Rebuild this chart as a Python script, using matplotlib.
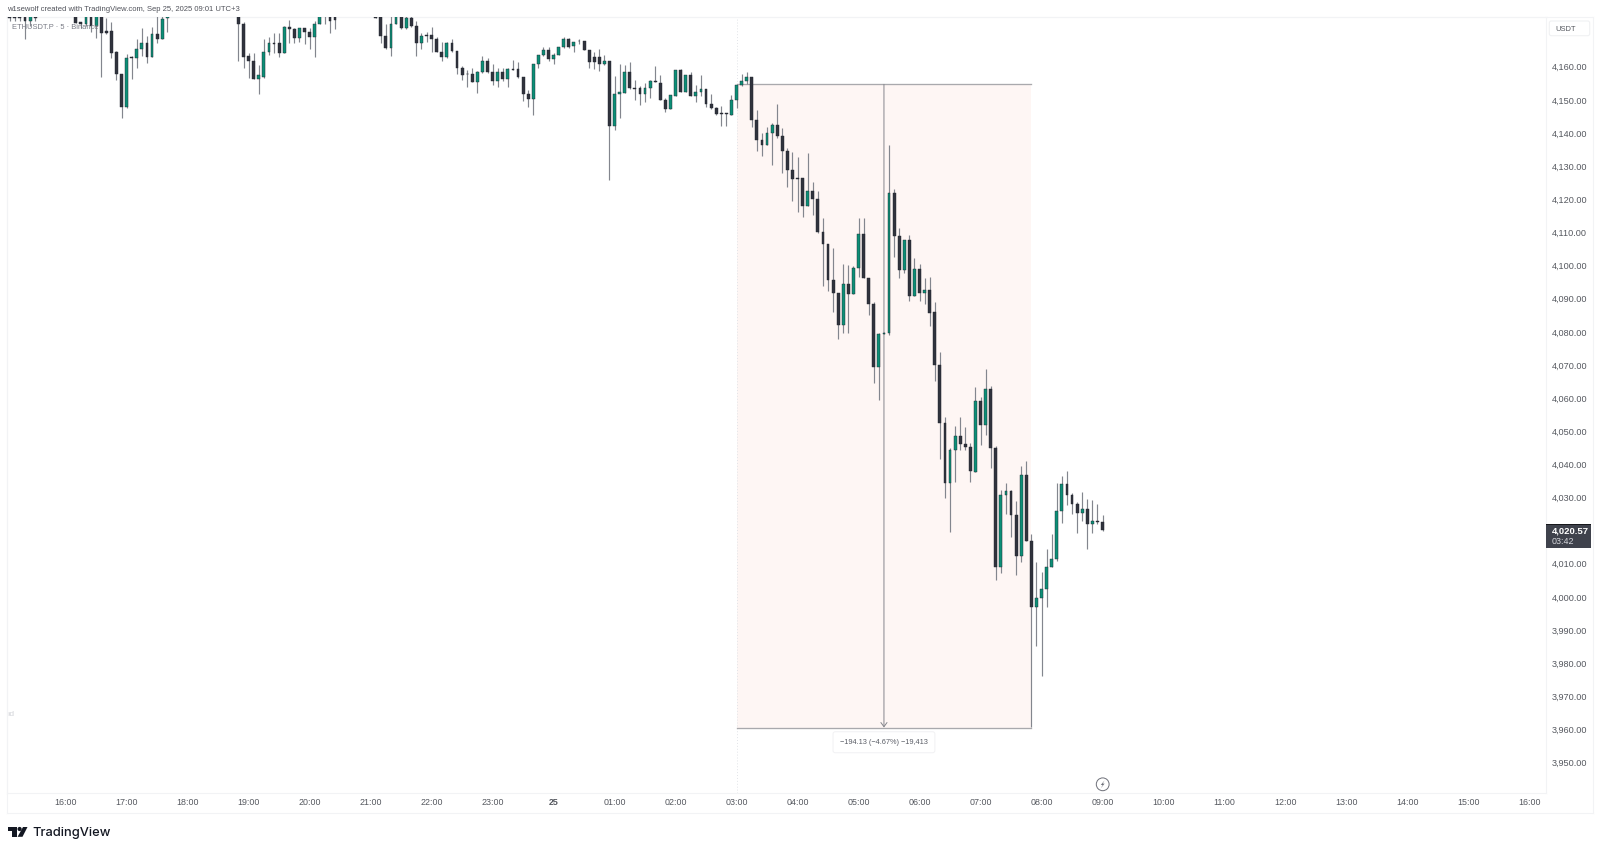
import numpy as np
import matplotlib
matplotlib.use("Agg")
import matplotlib.pyplot as plt
from matplotlib.patches import FancyBboxPatch, Rectangle, Polygon, Circle

plt.rcParams['font.family'] = ['Liberation Sans', 'DejaVu Sans']

nan = np.nan
FIRST_BAR = -11   # bars are 5 minutes, bar 0 = 16:00 Sep 24

opens = [4176,4176,4176,4176,4174.0,4176] + [nan]*7 + [
 4176,4173.7,4173.2,4176,4172.5,4176,4171.1,4171.1,4164.7,4158.1,4148.1,4163.3,4163.1,4165.8,4167.5,4163.4,4170.3,4168.7,4174.9] + [nan]*13 + [
 4176,4173.2,4163.5,4162.1,4156.6,4157.3,4164.8,4167.6,4167.5,4164.6,4172.2,4171.6,4169.0,4171.9,4170.7,4169.4,4173.2,4176.5,4176,4176] + [nan]*7 + [
 4176,4176,4169.6,4166.1,4173.2,4176,4172.0,4174.9,4172.7,4167.4,
 4169.9,4169.8,4168.8,4164.8,4163.3,4167.4,4165.1,4160.0,4158.2,4158.2,
 4155.8,4158.6,4161.9,4158.7,4156.0,4158.6,4156.6,4159.6,4159.6,4157.3,
 4152.1,4150.5,4161.0,4163.9,4165.4,4162.8,4164.0,4166.2,4168.8,4166.5,
 4168.2,4168.2,4165.5,4163.2,4163.2,4161.1,4161.9,4142.5,4152.1,4152.5,
 4158.7,4153.9,4153.9,4152.0,4154.0,4156.0,4155.5,4150.4,4147.6,4151.6,
 4159.4,4152.6,4157.8,4151.6,4152.8,4153.6,4149.0,4148.0,4146.3,4146.3,
 4145.9,4150.2,4154.8,4156.0,4157.3,4144.2,4138.2,4136.7,4140.2,4142.7,
 4139.4,4135.0,4129.0,4126.6,4126.6,4118.4,4122.7,4120.3,4110.3,4106.8,
 4096.0,4092.1,4082.3,4094.8,4091.6,4099.5,4109.8,4096.5,4088.7,4069.6,
 4079.6,4079.9,4122.3,4109.2,4099.0,4108.0,4091.2,4099.3,4092.1,4093.0,
 4086.4,4070.4,4052.9,4034.8,4044.5,4048.9,4046.3,4045.5,4038.1,4059.4,
 4052.3,4063.0,4045.3,4009.2,4031.0,4032.2,4025.1,4012.5,4037.0,4017.3,
 3997.4,4000.0,4002.6,4009.4,4011.7,4026.2,4034.3,4031.0,4028.4,4025.5,
 4026.7,4022.4,4023.1,4022.8]

highs = [4180,4180,4180,4180,4180,4180] + [nan]*7 + [
 4180,4173.9,4180,4180,4180,4180,4175.0,4173.8,4165.1,4158.1,4164.2,4163.6,4168.6,4171.9,4169.6,4172.3,4180,4180,4180] + [nan]*13 + [
 4180,4173.8,4164.4,4164.6,4160.9,4168.8,4169.2,4170.6,4170.6,4172.5,4174.3,4171.9,4171.9,4171.9,4171.9,4174.0,4180,4180,4180,4180] + [nan]*7 + [
 4180,4180,4173.2,4180,4180,4180,4180,4180,4174.0,4170.4,
 4170.7,4172.3,4169.2,4167.9,4167.9,4168.6,4165.1,4160.4,4159.4,4159.9,
 4158.9,4163.6,4162.9,4161.1,4159.9,4159.9,4159.9,4162.4,4161.6,4157.3,
 4153.3,4161.2,4163.9,4166.2,4166.4,4164.4,4166.3,4169.2,4169.0,4167.9,
 4168.6,4168.2,4165.5,4164.9,4165.6,4163.9,4161.9,4157.6,4161.2,4160.9,
 4161.7,4156.2,4154.5,4155.3,4156.4,4160.6,4157.9,4150.8,4151.8,4159.3,
 4159.7,4157.9,4158.6,4154.8,4157.9,4153.6,4152.0,4148.3,4148.5,4146.5,
 4151.8,4154.8,4158.2,4158.6,4157.3,4147.3,4140.2,4142.2,4143.2,4149.1,
 4141.7,4135.7,4134.7,4133.0,4126.6,4134.2,4125.6,4122.9,4114.6,4106.8,
 4105.5,4092.1,4100.8,4100.5,4100.2,4114.8,4114.8,4096.5,4089.4,4079.9,
 4080.2,4136.7,4123.3,4111.5,4108.0,4109.4,4102.5,4100.7,4096.5,4096.8,
 4089.4,4074.3,4054.7,4045.2,4051.9,4054.5,4051.7,4046.9,4063.8,4060.5,
 4069.1,4064.0,4045.7,4032.6,4034.8,4032.6,4029.1,4039.8,4041.3,4019.2,
 4010.9,4007.9,4014.7,4019.3,4034.6,4036.8,4038.4,4031.8,4028.8,4032.0,
 4029.8,4029.6,4028.3,4025.0]

lows = [4174.0,4174.0,4174.0,4168.6,4172.5,4174.0] + [nan]*7 + [
 4173.4,4171.9,4172.5,4170.9,4168.9,4157.2,4170.2,4163.1,4156.2,4144.9,4147.8,4156.6,4159.9,4163.6,4161.4,4163.4,4167.4,4168.6,4170.7] + [nan]*13 + [
 4161.9,4159.9,4156.9,4156.6,4152.1,4156.9,4163.8,4164.4,4163.2,4164.4,4167.4,4167.6,4167.9,4167.2,4165.6,4163.4,4173.2,4173.3,4170.6,4171.8] + [nan]*7 + [
 4175.0,4167.6,4165.8,4163.6,4173.2,4171.8,4171.8,4172.3,4163.6,4165.8,
 4167.9,4164.9,4164.8,4162.2,4162.9,4164.8,4158.2,4156.2,4154.1,4155.8,
 4152.5,4158.4,4158.4,4154.8,4154.1,4155.9,4154.1,4159.4,4156.9,4150.0,
 4148.1,4145.7,4159.8,4163.6,4161.9,4161.0,4163.9,4166.1,4166.1,4164.9,
 4167.2,4165.4,4159.8,4159.6,4158.9,4160.9,4126.0,4141.3,4144.7,4152.5,
 4153.6,4150.3,4148.7,4149.8,4150.8,4155.6,4150.3,4146.8,4147.5,4151.5,
 4152.7,4152.6,4151.5,4149.7,4151.5,4148.3,4147.5,4145.8,4142.3,4142.5,
 4145.8,4147.8,4154.5,4155.0,4142.1,4135.0,4133.4,4136.7,4130.7,4138.7,
 4128.1,4123.9,4119.9,4116.6,4114.9,4118.4,4115.6,4110.2,4094.1,4092.7,
 4086.4,4078.0,4080.1,4079.9,4091.6,4097.0,4096.5,4085.4,4065.0,4059.7,
 4079.5,4079.4,4102.8,4096.7,4098.2,4089.7,4091.1,4089.7,4088.7,4082.1,
 4065.5,4041.8,4030.1,4019.8,4035.1,4044.7,4044.7,4035.0,4038.1,4046.2,
 4049.3,4039.1,4005.4,4007.6,4025.3,4018.5,4006.9,4010.7,4017.2,3960.9,
 3985.5,3976.4,3997.4,4009.4,4011.0,4022.7,4028.1,4025.2,4019.7,4023.3,
 4014.8,4019.5,4022.2,4020.2]

closes = [4175.0,4175.0,4175.0,4174.0,4176,4175.0] + [nan]*7 + [
 4173.5,4173.2,4176,4172.5,4176,4170.6,4170.5,4164.6,4158.0,4148.1,4162.9,4162.9,4165.8,4167.5,4163.4,4170.3,4168.8,4174.8,4176] + [nan]*13 + [
 4173.1,4163.4,4162.0,4156.6,4157.8,4164.9,4167.4,4167.3,4164.6,4172.4,4171.6,4169.0,4171.9,4170.7,4169.4,4173.3,4176,4176,4174.2,4174.3] + [nan]*7 + [
 4175.1,4169.6,4166.1,4173.3,4176,4172.0,4174.9,4172.7,4167.4,4169.6,
 4169.6,4168.6,4164.8,4163.4,4167.5,4165.0,4159.9,4157.7,4158.0,4155.8,
 4158.6,4161.9,4158.6,4156.0,4158.6,4156.6,4159.6,4159.4,4157.1,4152.1,
 4150.5,4161.2,4163.9,4165.4,4162.8,4164.0,4166.3,4168.8,4166.4,4167.9,
 4168.0,4165.4,4161.7,4161.7,4161.1,4162.1,4142.5,4152.1,4152.6,4158.6,
 4153.8,4153.7,4152.0,4153.9,4156.0,4155.6,4150.4,4147.6,4151.7,4159.3,
 4152.8,4157.9,4151.6,4152.8,4153.5,4149.0,4147.8,4146.0,4146.2,4146.2,
 4150.2,4154.8,4156.0,4157.3,4144.2,4138.1,4136.7,4140.2,4142.7,4139.4,
 4134.9,4129.0,4126.3,4126.5,4118.4,4122.7,4120.3,4110.3,4106.8,4096.0,
 4091.9,4082.3,4094.8,4091.6,4099.6,4109.8,4096.5,4088.7,4069.6,4079.6,
 4080.1,4122.3,4109.2,4099.0,4108.0,4091.1,4099.3,4092.1,4093.0,4086.1,
 4070.3,4052.9,4034.8,4044.7,4048.9,4046.3,4045.5,4038.3,4059.4,4052.3,
 4063.0,4045.3,4009.4,4031.0,4032.2,4025.1,4012.5,4037.0,4017.3,3997.4,
 4000.0,4002.6,4009.2,4011.7,4026.3,4034.3,4031.0,4028.3,4025.5,4026.7,
 4022.4,4023.1,4022.8,4020.57]

time_tick_bars = [0,12,24,36,48,60,72,84,96,108,120,132,144,156,168,180,192,204,216,228,240,252,264,276,288]
time_tick_labels = ['16:00','17:00','18:00','19:00','20:00','21:00','22:00','23:00','25','01:00','02:00',
                    '03:00','04:00','05:00','06:00','07:00','08:00','09:00','10:00','11:00','12:00',
                    '13:00','14:00','15:00','16:00']
price_ticks = [3950,3960,3970,3980,3990,4000,4010,4020,4030,4040,4050,4060,4070,4080,4090,4100,4110,4120,4130,4140,4150,4160]

range_start_bar, range_end_bar, range_mid_bar = 132, 190, 161
range_top, range_bottom = 4155.0, 3960.87
range_label = '\u2212194.13 (\u22124.67%) \u221219,413'
last_price_label, countdown_label = '4,020.57', '03:42'

GREEN, DARK, WICK, LINE = '#0c8f77', '#30333d', '#83868e', '#f2f3f5'
TXT = '#55585f'

W, H = 1600, 852
fig = plt.figure(figsize=(W/100, H/100), dpi=100, facecolor='white')

# page-level furniture in pixel coordinates
chrome = fig.add_axes([0, 0, 1, 1], zorder=0)
chrome.set_xlim(0, W); chrome.set_ylim(H, 0); chrome.axis('off')

L, R, T, B = 6.5, 1545.7, 17.3, 792.7
ax = fig.add_axes([L/W, 1-B/H, (R-L)/W, (B-T)/H], zorder=1)
ax.patch.set_alpha(0)
ax.set_xlim(-11.64, 291.2)
ax.set_ylim(3941.2, 4175.24)

o, h, l, c = map(np.array, (opens, highs, lows, closes))
x = FIRST_BAR + np.arange(len(o))
up = c >= o

# long/short range tool
ax.add_patch(Rectangle((range_start_bar, range_bottom), range_end_bar-range_start_bar,
                       range_top-range_bottom, fc='#fef6f4', ec='none', zorder=1))
ax.axvline(range_start_bar, color='#e2e4e8', lw=0.7, ls=(0, (1, 2)), zorder=1)
ax.plot([range_start_bar, range_end_bar], [range_top, range_top], color='#a9a9ad', lw=0.95, zorder=2)
ax.plot([range_start_bar, range_end_bar], [range_bottom, range_bottom], color='#a9a9ad', lw=0.95, zorder=2)
ax.annotate('', xy=(range_mid_bar, range_bottom), xytext=(range_mid_bar, range_top),
            arrowprops=dict(arrowstyle='->,head_length=0.3,head_width=0.22', color='#85868c', lw=0.7,
                            shrinkA=0, shrinkB=0), zorder=2)

# candles
ax.vlines(x, l, h, color=WICK, lw=0.85, zorder=3)
for mask, col in ((up, GREEN), (~up, DARK)):
    ax.bar(x[mask], (c-o)[mask], bottom=o[mask], width=0.56, color=col,
           edgecolor='#20242c', linewidth=0.3, zorder=4)

ax.annotate(range_label, xy=(range_mid_bar, range_bottom), xytext=(0, -10.6), textcoords='offset points',
            ha='center', va='center', fontsize=5.3, color='#5a5d66', annotation_clip=False, zorder=6,
            bbox=dict(boxstyle='round,pad=0.95,rounding_size=0.3', fc='white', ec='#f1f1f3', lw=0.7))

# axes, ticks
for s in ax.spines.values():
    s.set_color(LINE); s.set_linewidth(0.8)
ax.yaxis.tick_right()
ax.set_yticks(price_ticks)
ax.set_yticklabels([f'{p:,.2f}' for p in price_ticks], fontsize=6.6, color=TXT, va='center')
ax.set_xticks(time_tick_bars)
ax.set_xticklabels(time_tick_labels, fontsize=6.4, color=TXT)
ax.get_xticklabels()[8].set_fontweight('bold')
ax.tick_params(axis='y', length=0, pad=4.3)
ax.tick_params(axis='x', length=0, pad=3.8)

# frame of scales
chrome.plot([L, 1593], [T, T], color=LINE, lw=0.8)
chrome.plot([L, 1593], [812.7, 812.7], color=LINE, lw=0.8)
chrome.plot([L, L], [T, 812.7], color=LINE, lw=0.8)
chrome.plot([1593, 1593], [T, 812.7], color=LINE, lw=0.8)

# header and legend
fig.text(6.7/W, 1-9.7/H, 'w1sewolf created with TradingView.com, Sep 25, 2025 09:01 UTC+3',
         fontsize=5.5, color='#50525a', va='center', zorder=5)
fig.text(11.7/W, 1-27.3/H, 'ETHUSDT.P \u00b7 5 \u00b7 Binance', fontsize=5.4, color='#777983', va='center', zorder=5)

# USDT box
top = fig.add_axes([0, 0, 1, 1], zorder=3)
top.set_xlim(0, W); top.set_ylim(H, 0); top.axis('off'); top.patch.set_alpha(0)
top.add_patch(FancyBboxPatch((1549.3, 21), 40.4, 14.7, boxstyle='round,pad=0,rounding_size=2',
                             fc='white', ec='#f0f1f3', lw=0.8))
top.text(1555, 29.6, 'USDT', fontsize=5.4, color=TXT, va='center')

# last price tag
top.add_patch(Rectangle((1546, 524), 44.7, 23.7, fc='#3f424c', ec='none'))
top.add_patch(Rectangle((1546, 524), 44.7, 1.2, fc='#17181c', ec='none'))
top.text(1552, 531.3, last_price_label, fontsize=6.8, fontweight='bold', color='white', va='center')
top.text(1552, 541, countdown_label, fontsize=6.4, color='#d6d7dc', va='center')

# replay icon
top.add_patch(Circle((1102.7, 784.3), 6.4, fc='white', ec='#6d6f78', lw=0.7))
top.add_patch(Polygon([(1104.6, 780.3), (1100.8, 785), (1102.7, 785), (1100.8, 788.3),
                       (1104.6, 783.6), (1102.7, 783.6)], fc='#6d6f78', ec='none'))

# faint watermark remnant
top.text(7.5, 714, 'ıd', fontsize=6, color='#d2d4d9', va='center')

# TradingView logo
top.add_patch(Polygon([(7.5, 827), (16.5, 827), (16.5, 836.8), (12, 836.8), (12, 831), (7.5, 831)],
                      fc='#131722', ec='none'))
top.add_patch(Circle((19.6, 829), 2.1, fc='#131722', ec='none'))
top.add_patch(Polygon([(23, 827), (27.5, 827), (22.5, 836.8), (17.6, 836.8)], fc='#131722', ec='none'))
top.text(32, 832.6, 'TradingView', family='Inter', fontweight='medium', fontsize=9.3, color='#131722', va='center')

fig.savefig('out.png', dpi=100, facecolor='white')
